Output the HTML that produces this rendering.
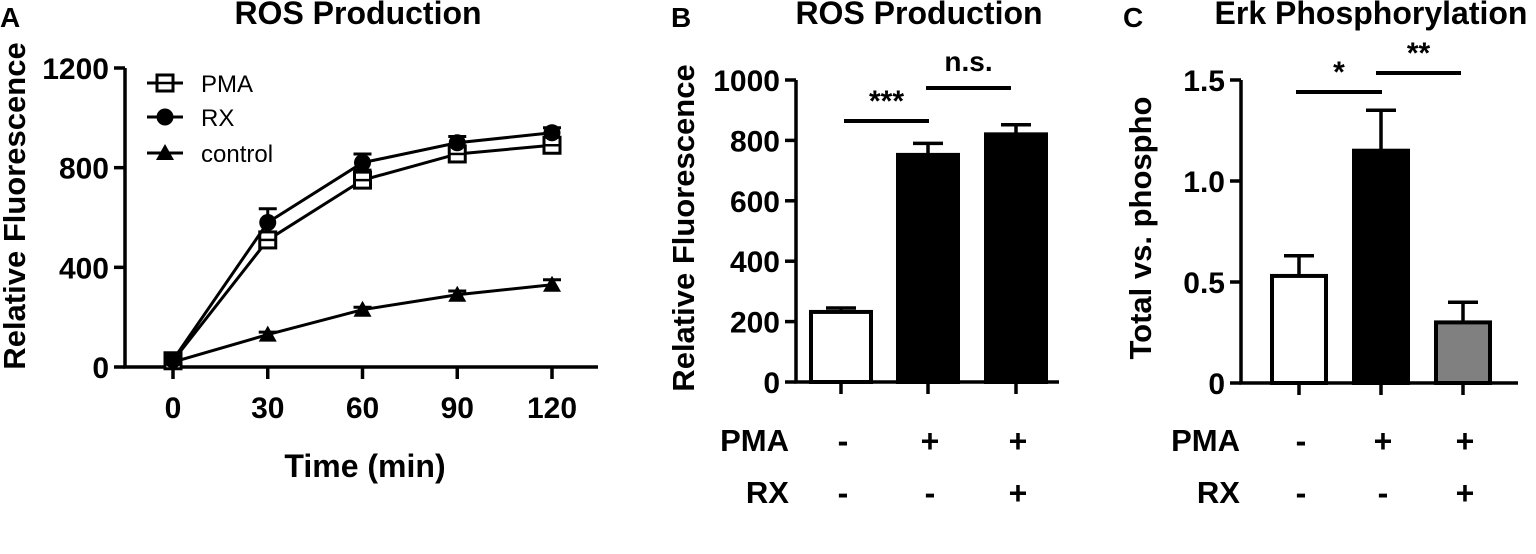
<!DOCTYPE html>
<html><head><meta charset="utf-8"><style>
html,body{margin:0;padding:0;background:#fff;}
svg{display:block;font-family:"Liberation Sans",Arial,sans-serif;}
</style></head><body>
<svg id="fig" width="1536" height="554" viewBox="0 0 1536 554"></svg>
<script>
// Panel A data
const timePoints = [0, 30, 60, 90, 120];
const pmaValues = [25, 510, 750, 855, 890];
const pmaErrors = [10, 20, 40, 25, 30];
const rxValues = [28, 580, 820, 900, 940];
const rxErrors = [10, 55, 35, 25, 20];
const controlValues = [20, 130, 230, 290, 330];
const controlErrors = [8, 10, 10, 15, 20];
const yTicksA = [0, 400, 800, 1200];
// Panel B data
const bCategories = ["ctrl", "PMA", "PMA+RX"];
const bValues = [232, 752, 820];
const bErrors = [13, 38, 32];
const yTicksB = [0, 200, 400, 600, 800, 1000];
// Panel C data
const cCategories = ["ctrl", "PMA", "PMA+RX"];
const cValues = [0.53, 1.15, 0.30];
const cErrors = [0.10, 0.20, 0.10];
const yTicksC = [0, 0.5, 1.0, 1.5];
const yTickLabelsC = ["0", "0.5", "1.0", "1.5"];
const pmaSigns = ["-", "+", "+"];
const rxSigns = ["-", "-", "+"];

const svg = document.getElementById('fig');
const NS = "http://www.w3.org/2000/svg";
function el(tag, attrs, parent){const e=document.createElementNS(NS,tag);for(const k in attrs)e.setAttribute(k,attrs[k]);(parent||svg).appendChild(e);return e;}
function txt(x,y,s,size,anchor,bold,parent,extra){const t=el('text',Object.assign({x:x,y:y,'font-size':size,'text-anchor':anchor||'middle','font-weight':bold?'bold':'normal',fill:'#000'},extra||{}),parent);t.textContent=s;return t;}

// ---------- Panel A ----------
const gA = el('g',{});


const xA = t => 173 + (t/120)*(552-173);
const yA = v => 367 - (v/1200)*(367-68);
let t;
t=txt(0,27,"A",28,'start',true,gA);  
t=txt(358,24,"ROS Production",32,'middle',true,gA);  
let ax=el('path',{d:`M125 ${yA(1200)} L125 ${yA(0)} L598 ${yA(0)}`,stroke:'#000','stroke-width':3.5,fill:'none'},gA);
 
yTicksA.forEach(v=>{
  el('line',{x1:114,x2:125,y1:yA(v),y2:yA(v),stroke:'#000','stroke-width':3.5},gA);
  const l=txt(109,yA(v)+11,String(v),30,'end',true,gA);
   
});
timePoints.forEach(tp=>{
  el('line',{x1:xA(tp),x2:xA(tp),y1:yA(0),y2:yA(0)+12,stroke:'#000','stroke-width':3.5},gA);
  const l=txt(xA(tp),418,String(tp),30,'middle',true,gA);
   
});
t=txt(365,477,"Time (min)",32,'middle',true,gA);  
t=txt(0,0,"Relative Fluorescence",31,'middle',true,gA,{transform:'translate(25,206) rotate(-90)'});  

function marker(kind,x,y,parent){
  if(kind==='sq') return el('rect',{x:x-8,y:y-8,width:16,height:16,fill:'#fff',stroke:'#000','stroke-width':3},parent);
  if(kind==='ci') return el('circle',{cx:x,cy:y,r:8.5,fill:'#000'},parent);
  return el('polygon',{points:`${x},${y-9} ${x+9},${y+7} ${x-9},${y+7}`,fill:'#000'},parent);
}
function series(vals,errs,kind,name){
  const g=el('g',{},gA);
   
  const pts=timePoints.map((tp,i)=>`${xA(tp)},${yA(vals[i])}`).join(' ');
  const ln=el('polyline',{points:pts,fill:'none',stroke:'#000','stroke-width':3},g);
   
  timePoints.forEach((tp,i)=>{
    const x=xA(tp),y=yA(vals[i]),ye=yA(vals[i]+errs[i]);
    el('line',{x1:x,x2:x,y1:y,y2:ye,stroke:'#000','stroke-width':3},g);
    el('line',{x1:x-9,x2:x+9,y1:ye,y2:ye,stroke:'#000','stroke-width':3},g);
    const m=marker(kind,x,y,g);
     
    if(kind==='sq'){el('line',{x1:x-7,x2:x+7,y1:y,y2:y,stroke:'#000','stroke-width':2.5},g);}
  });
}
series(controlValues,controlErrors,'tr','control');
series(pmaValues,pmaErrors,'sq','pma');
series(rxValues,rxErrors,'ci','rx');
[['sq','PMA',83],['ci','RX',117],['tr','control',153]].forEach(([k,s,y])=>{
  const g=el('g',{},gA);
   
  el('line',{x1:147,x2:183,y1:y,y2:y,stroke:'#000','stroke-width':3},g);
  marker(k,165,y,g);
  if(k==='sq') el('line',{x1:158,x2:172,y1:y,y2:y,stroke:'#000','stroke-width':2.5},g);
  txt(201,y+9,s,24,'start',false,g);
});

// ---------- Bar panels ----------
function barPanel(opt){
  const g=el('g',{});
   
  const y=v=>opt.y0-(v/opt.max)*(opt.y0-opt.yTop);
  let l=txt(opt.letterX,27,opt.letter,28,'start',true,g);  
  l=txt(opt.titleX,24,opt.title,32,'middle',true,g);  
  l=txt(0,0,opt.ytitle,31,'middle',true,g,{transform:`translate(${opt.ytitleX},${opt.ytitleY}) rotate(-90)`});  
  opt.ticks.forEach((v,i)=>{
    el('line',{x1:opt.ax-11,x2:opt.ax,y1:y(v),y2:y(v),stroke:'#000','stroke-width':3.5},g);
    const tl=txt(opt.ax-16,y(v)+11,opt.tickLabels[i],30,'end',true,g);
     
  });
  opt.vals.forEach((v,i)=>{
    const cx=opt.centers[i],w=opt.bw;
    const ye=y(v+opt.errs[i]);
    el('line',{x1:cx,x2:cx,y1:y(v),y2:ye,stroke:'#000','stroke-width':3.5},g);
    el('line',{x1:cx-15,x2:cx+15,y1:ye,y2:ye,stroke:'#000','stroke-width':3.5},g);
    const r=el('rect',{x:cx-w/2,y:y(v),width:w,height:y(0)-y(v),fill:opt.fills[i],stroke:'#000','stroke-width':4},g);
     
    el('line',{x1:cx,x2:cx,y1:y(0),y2:y(0)+12,stroke:'#000','stroke-width':3.5},g);
    let s=txt(cx+2,452,pmaSigns[i],32,'middle',true,g);  
    s=txt(cx+2,504,rxSigns[i],32,'middle',true,g);  
  });
  const a=el('path',{d:`M${opt.ax} ${opt.yTop} L${opt.ax} ${y(0)} L${opt.axEnd} ${y(0)}`,stroke:'#000','stroke-width':3.5,fill:'none'},g);
   
  l=txt(opt.rowLabelX,451,"PMA",31,'end',true,g);  
  l=txt(opt.rowLabelX,503,"RX",31,'end',true,g);  
  opt.sig.forEach(s=>{
    const sg=el('g',{},g);
     
    el('line',{x1:s[0],x2:s[1],y1:s[2],y2:s[2],stroke:'#000','stroke-width':4},sg);
    if(s[3]==='n.s.') txt((s[0]+s[1])/2,s[2]-17,s[3],28,'middle',true,sg);
    else txt((s[0]+s[1])/2,s[2]+4,s[3],30,'middle',true,sg,{dy:-14});
  });
}
barPanel({name:'panel-b',letter:'B',letterX:671,title:'ROS Production',titleX:919,ytitle:'Relative Fluorescence',ytitleX:694,ytitleY:228,
  ax:796,axEnd:1059,y0:382,yTop:80,max:1000,ticks:yTicksB,tickLabels:yTicksB.map(String),
  vals:bValues,errs:bErrors,cats:bCategories,centers:[841,928,1016],bw:60,fills:['#fff','#000','#000'],rowLabelX:789,
  sig:[[844,929,121,'***'],[926,1011,88,'n.s.']]});
barPanel({name:'panel-c',letter:'C',letterX:1123,title:'Erk Phosphorylation',titleX:1371,ytitle:'Total vs. phospho',ytitleX:1151,ytitleY:228,
  ax:1241,axEnd:1518,y0:383,yTop:80,max:1.5,ticks:yTicksC,tickLabels:yTickLabelsC,
  vals:cValues,errs:cErrors,cats:cCategories,centers:[1299,1381,1463],bw:54,fills:['#fff','#000','#808080'],rowLabelX:1240,
  sig:[[1296,1382,92,'*'],[1376,1461,73,'**']]});
</script>
</body></html>
